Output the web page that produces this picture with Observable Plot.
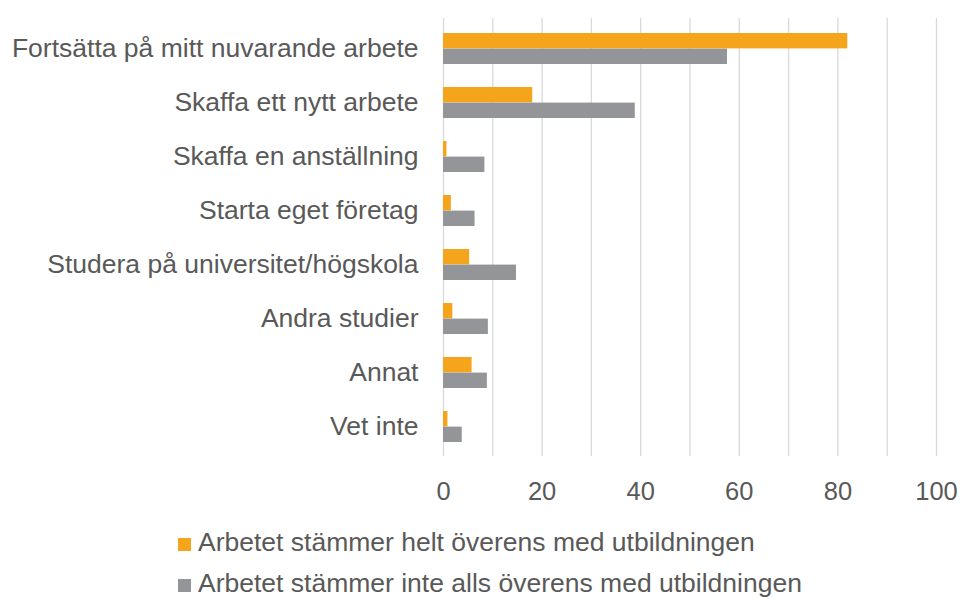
<!DOCTYPE html>
<html>
<head>
<meta charset="utf-8">
<script src="https://cdn.jsdelivr.net/npm/d3@7"></script>
<script src="https://cdn.jsdelivr.net/npm/@observablehq/plot@0.6"></script>
<style>
  html, body { margin: 0; padding: 0; background: #fff; overflow: hidden; }
  body { font-family: "Liberation Sans", Arial, sans-serif; color: #595959; width: 960px; }
  #legend { margin-top: 17px; padding-left: 178px; font-size: 26.5px; line-height: 41px; }
  .item { display: flex; align-items: center; white-space: nowrap; height: 41px; }
  .sw { width: 13px; height: 13px; margin-right: 7px; margin-top: 4px; }
</style>
</head>
<body>
<div id="chart"></div>
<div id="legend"></div>
<script>
const categories = [
  "Fortsätta på mitt nuvarande arbete",
  "Skaffa ett nytt arbete",
  "Skaffa en anställning",
  "Starta eget företag",
  "Studera på universitet/högskola",
  "Andra studier",
  "Annat",
  "Vet inte"
];
const seriesNames = [
  "Arbetet stämmer helt överens med utbildningen",
  "Arbetet stämmer inte alls överens med utbildningen"
];
const heltValues = [82.0, 18.1, 0.7, 1.6, 5.3, 1.9, 5.8, 0.9];
const inteValues = [57.6, 38.9, 8.4, 6.4, 14.8, 9.1, 8.9, 3.8];
const xTicks = [0, 20, 40, 60, 80, 100];
const gridTicks = [0, 10, 20, 30, 40, 50, 60, 70, 80, 90, 100];
const colors = ["#F5A51B", "#939598"];

const helt = categories.map((c, i) => ({category: c, value: heltValues[i]}));
const inte = categories.map((c, i) => ({category: c, value: inteValues[i]}));

const chart = Plot.plot({
  width: 960,
  height: 505,
  marginLeft: 443,
  marginRight: 24,
  marginTop: 18,
  marginBottom: 49,
  style: {fontFamily: "'Liberation Sans', Arial, sans-serif", fontSize: "26px", color: "#595959", background: "white"},
  x: {domain: [0, 100]},
  y: {domain: categories, paddingInner: 0.43, paddingOuter: 0.215},
  marks: [
    Plot.ruleX(gridTicks, {stroke: "#D9D9D9", strokeWidth: 1.3}),
    Plot.barX(helt, {x: "value", y: "category", fill: colors[0], insetBottom: 15.6}),
    Plot.barX(inte, {x: "value", y: "category", fill: colors[1], insetTop: 15.6}),
    Plot.axisX({ticks: xTicks, tickSize: 0, tickPadding: 25, fontSize: 25.5, label: null}),
    Plot.axisY({tickSize: 0, tickPadding: 25, fontSize: 26.5, label: null})
  ]
});
document.getElementById("chart").appendChild(chart);

const legend = d3.select("#legend");
seriesNames.forEach((name, i) => {
  const item = legend.append("div").attr("class", "item");
  item.append("div").attr("class", "sw").style("background", colors[i]);
  item.append("span").text(name);
});
</script>
</body>
</html>
